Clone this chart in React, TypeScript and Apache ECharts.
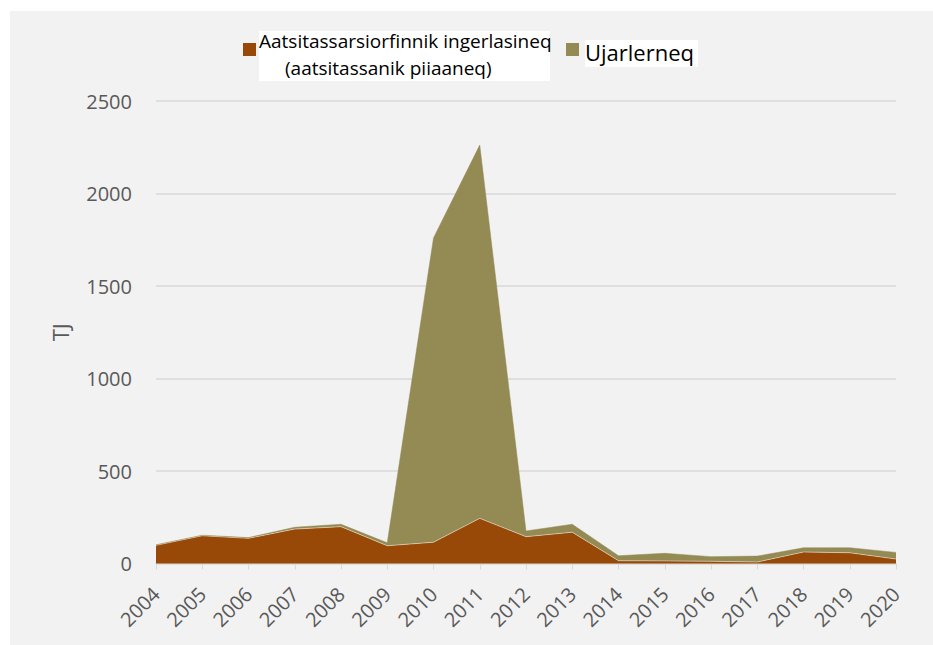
import React, { useEffect, useRef } from "react";
import * as echarts from "echarts";

const years = ["2004","2005","2006","2007","2008","2009","2010","2011","2012","2013","2014","2015","2016","2017","2018","2019","2020"];
const aatsitassarsiorfinnik = [98, 150, 136, 186, 199, 96, 115, 244, 145, 169, 15, 14, 12, 8, 62, 58, 24];
const ujarlerneq = [3, 3, 4, 10, 13, 16, 1645, 2018, 31, 43, 27, 41, 25, 32, 23, 27, 36];
const yTicks = { min: 0, max: 2500, interval: 500 };
const seriesNames = ["Aatsitassarsiorfinnik ingerlasineq (aatsitassanik piiaaneq)", "Ujarlerneq"];
const legendLine1 = "Aatsitassarsiorfinnik ingerlasineq";
const legendLine2 = "(aatsitassanik piiaaneq)";
const legendLine3 = "Ujarlerneq";

const BROWN = "#984807";
const OLIVE = "#948a54";
const FONT = "'Open Sans', 'Noto Sans', sans-serif";

export default function App() {
  const ref = useRef<HTMLDivElement>(null);
  useEffect(() => {
    if (!ref.current) return;
    const chart = echarts.init(ref.current, null, { renderer: "svg" });
    chart.setOption({
      animation: false,
      backgroundColor: "#ffffff",
      textStyle: { fontFamily: FONT },
      grid: { left: 156, right: 37, top: 101, bottom: 81.5, containLabel: false },
      graphic: [
        { type: "rect", z: -10, silent: true, shape: { x: 10, y: 11, width: 923, height: 634 }, style: { fill: "#f2f2f2" } },
        { type: "rect", shape: { x: 243, y: 43, width: 13, height: 13 }, style: { fill: BROWN } },
        { type: "rect", shape: { x: 259, y: 31, width: 291, height: 50 }, style: { fill: "#ffffff" } },
        { type: "text", x: 259, y: 41, style: { text: legendLine1, font: "19px " + FONT, fill: "#000000", verticalAlign: "middle", align: "left" } },
        { type: "text", x: 285, y: 67.5, style: { text: legendLine2, font: "19px " + FONT, fill: "#000000", verticalAlign: "middle", align: "left" } },
        { type: "rect", shape: { x: 566, y: 43, width: 13, height: 13 }, style: { fill: OLIVE } },
        { type: "rect", shape: { x: 585, y: 40, width: 113, height: 27 }, style: { fill: "#ffffff" } },
        { type: "text", x: 585, y: 51.5, style: { text: legendLine3, font: "22px " + FONT, fill: "#000000", verticalAlign: "middle", align: "left" } },
      ],
      xAxis: {
        type: "category",
        data: years,
        boundaryGap: false,
        axisLine: { show: true, lineStyle: { color: "#d9d9d9", width: 1 } },
        axisTick: { show: true, length: 6, lineStyle: { color: "#d9d9d9" } },
        axisLabel: { rotate: 45, color: "#595959", fontSize: 20, margin: 27, fontFamily: FONT },
        splitLine: { show: false },
      },
      yAxis: {
        type: "value",
        min: yTicks.min,
        max: yTicks.max,
        interval: yTicks.interval,
        name: "TJ",
        nameLocation: "middle",
        nameRotate: 90,
        nameGap: 85,
        nameTextStyle: { color: "#595959", fontSize: 22, fontFamily: FONT },
        axisLine: { show: false },
        axisTick: { show: false },
        axisLabel: { color: "#595959", fontSize: 20, margin: 24, fontFamily: FONT, formatter: (v: number) => String(v) },
        splitLine: { lineStyle: { color: "#d9d9d9", width: 1.5 } },
      },
      series: [
        {
          name: seriesNames[0],
          type: "line",
          stack: "total",
          data: aatsitassarsiorfinnik,
          showSymbol: false,
          symbol: "none",
          lineStyle: { color: "rgba(255,255,255,0.45)", width: 1 },
          areaStyle: { color: BROWN, opacity: 1 },
          itemStyle: { color: BROWN },
        },
        {
          name: seriesNames[1],
          type: "line",
          stack: "total",
          data: ujarlerneq,
          showSymbol: false,
          symbol: "none",
          lineStyle: { color: OLIVE, width: 0.5 },
          areaStyle: { color: OLIVE, opacity: 1 },
          itemStyle: { color: OLIVE },
        },
      ],
    });
    return () => chart.dispose();
  }, []);
  return (
    <div style={{ position: "fixed", left: 0, top: 0, width: 933, height: 645 }}>
      <div ref={ref} style={{ width: 933, height: 645 }} />
    </div>
  );
}
